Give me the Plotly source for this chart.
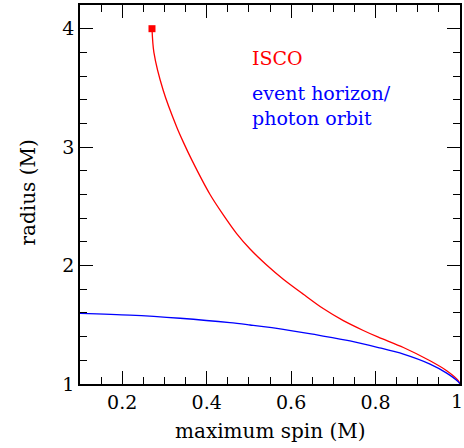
import plotly.graph_objects as go

# ISCO curve (red)
isco_spin = [0.2705, 0.275, 0.297, 0.329, 0.345, 0.365, 0.408, 0.439, 0.471, 0.5027,
             0.542, 0.5815, 0.629, 0.676, 0.7237, 0.771, 0.8066, 0.866, 0.929, 0.9685,
             0.996, 1.0]
isco_r = [4.0, 3.80, 3.48, 3.17, 3.04, 2.89, 2.60, 2.43, 2.27, 2.14,
          2.005, 1.885, 1.758, 1.637, 1.535, 1.452, 1.395, 1.308, 1.196, 1.112,
          1.028, 1.0]

# event horizon / photon orbit curve (blue)
eh_spin = [0.1, 0.218, 0.337, 0.455, 0.5027, 0.5815, 0.661, 0.7395, 0.8066, 0.866,
           0.929, 0.9685, 0.996, 1.0]
eh_r = [1.597, 1.582, 1.555, 1.518, 1.498, 1.462, 1.414, 1.364, 1.308, 1.252,
        1.168, 1.092, 1.019, 1.0]

x_ticks = [0.2, 0.4, 0.6, 0.8, 1.0]
x_labels = ["0.2", "0.4", "0.6", "0.8", "1"]
y_ticks = [1, 2, 3, 4]
y_labels = ["1", "2", "3", "4"]

FONT = "DejaVu Serif"
X_RANGE = [0.1, 1.0]
Y_RANGE = [1.0, 4.2]

fig = go.Figure()
fig.add_trace(go.Scatter(x=isco_spin, y=isco_r, mode="lines",
                         line=dict(color="#ff0000", width=1.3, shape="spline", smoothing=0.8),
                         showlegend=False))
fig.add_trace(go.Scatter(x=isco_spin[:1], y=isco_r[:1], mode="markers",
                         marker=dict(color="#ff0000", symbol="square", size=7),
                         showlegend=False))
fig.add_trace(go.Scatter(x=eh_spin, y=eh_r, mode="lines",
                         line=dict(color="#0000ff", width=1.3, shape="spline", smoothing=0.8),
                         showlegend=False))
# invisible trace to carry the mirrored (top/right) tick axes
fig.add_trace(go.Scatter(x=X_RANGE, y=Y_RANGE, xaxis="x2", yaxis="y2", mode="markers",
                         marker=dict(opacity=0), hoverinfo="skip", showlegend=False))

fig.add_annotation(x=0.503, y=3.756, xref="x", yref="y", text="ISCO",
                   showarrow=False, xanchor="left", yanchor="middle",
                   font=dict(family=FONT, size=19, color="#ff0000"))
fig.add_annotation(x=0.503, y=3.35, xref="x", yref="y",
                   text="event horizon/<br>photon orbit",
                   showarrow=False, xanchor="left", yanchor="middle", align="left",
                   font=dict(family=FONT, size=19, color="#0000ff"))

# last x tick label placed so it stays inside the page
fig.add_annotation(x=x_ticks[-1], y=0, xref="x", yref="paper", text=x_labels[-1],
                   showarrow=False, xanchor="right", yanchor="top", xshift=5, yshift=-4,
                   font=dict(family=FONT, size=19, color="black"))

fig.add_annotation(x=0.5, y=-0.125, xref="paper", yref="paper", text="maximum spin (M)",
                   showarrow=False, xanchor="center", yanchor="middle",
                   font=dict(family=FONT, size=20, color="black"))
fig.add_annotation(x=-0.137, y=0.505, xref="paper", yref="paper", text="radius (M)",
                   showarrow=False, xanchor="center", yanchor="middle", textangle=-90,
                   font=dict(family=FONT, size=20, color="black"))

tick_common = dict(ticks="inside", ticklen=13, tickwidth=1.2, tickcolor="black")
minor_x = dict(dtick=0.05, ticks="inside", ticklen=7, tickwidth=1.2,
               tickcolor="black", showgrid=False)
minor_y = dict(dtick=0.2, ticks="inside", ticklen=7, tickwidth=1.2,
               tickcolor="black", showgrid=False)

fig.update_layout(
    width=464, height=448, margin=dict(l=80, r=4, t=5, b=64),
    plot_bgcolor="white", paper_bgcolor="white",
    xaxis=dict(range=X_RANGE, tickvals=x_ticks, ticktext=x_labels[:-1] + [""], minor=minor_x,
               showgrid=False, zeroline=False, showline=True, linecolor="black",
               linewidth=1.5, automargin=False,
               tickfont=dict(family=FONT, size=19, color="black"), **tick_common),
    yaxis=dict(range=Y_RANGE, tickvals=y_ticks, ticktext=y_labels, minor=minor_y,
               showgrid=False, zeroline=False, showline=True, linecolor="black",
               linewidth=1.5, automargin=False, ticklabeloverflow="allow",
               tickfont=dict(family=FONT, size=19, color="black"), **tick_common),
    xaxis2=dict(range=X_RANGE, overlaying="x", side="top", tickvals=x_ticks,
                showticklabels=False, minor=minor_x, showgrid=False, zeroline=False,
                showline=True, linecolor="black", linewidth=1.5, automargin=False,
                **tick_common),
    yaxis2=dict(range=Y_RANGE, overlaying="y", side="right", tickvals=y_ticks,
                showticklabels=False, minor=minor_y, showgrid=False, zeroline=False,
                showline=True, linecolor="black", linewidth=1.5, automargin=False,
                **tick_common),
)

fig.write_html("out.html", config={"displayModeBar": False},
               post_script="document.body.style.margin='0';document.body.style.padding='0';")
